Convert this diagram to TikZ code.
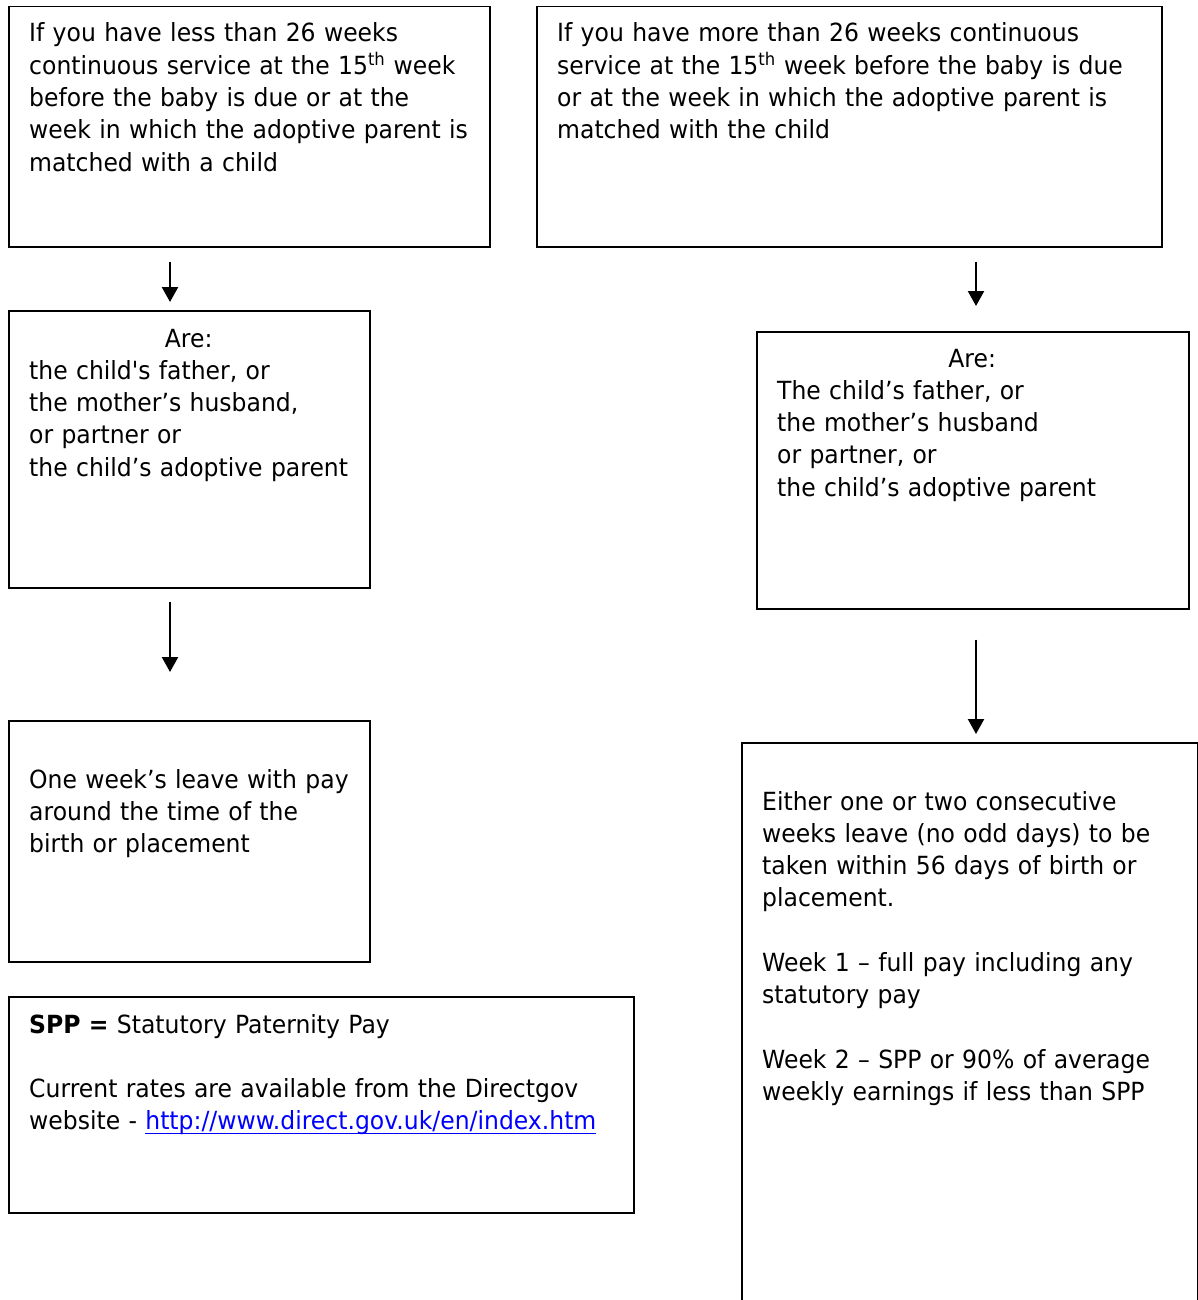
\documentclass[tikz,border=0pt]{standalone}
\usepackage{fontspec}
\setmainfont[Ligatures=TeXOff, FakeStretch=0.94]{DejaVu Sans}
\usetikzlibrary{arrows.meta}
\newcommand{\linktext}[1]{\setbox0\hbox{#1}\rlap{\rule[-4.5pt]{\wd0}{1.5pt}}\box0}
\definecolor{linkblue}{RGB}{0,0,255}
\begin{document}
\begin{tikzpicture}[x=1pt,y=-1pt,
  box/.style={draw=black, line width=1.5pt, inner sep=0pt, anchor=north west},
  txt/.style={inner sep=0pt, anchor=base west, align=left, text width=700pt,
    font=\fontsize{25pt}{32.3pt}\selectfont},
  arr/.style={line width=2.3pt, -{Triangle[width=16pt,length=15pt]}}]
\useasboundingbox (0,0) rectangle (1198,1300);
\clip (0,0) rectangle (1198,1300);

% boxes
\node[box, minimum width=481pt, minimum height=240pt] (A) at (8,6) {};
\node[box, minimum width=625pt, minimum height=240pt] (B) at (536,6) {};
\node[box, minimum width=361pt, minimum height=277pt] (C) at (8,310) {};
\node[box, minimum width=432pt, minimum height=277pt] (D) at (756,331) {};
\node[box, minimum width=361pt, minimum height=241pt] (E) at (8,720) {};
\node[box, minimum width=456pt, minimum height=620pt] (F) at (741,742) {};
\node[box, minimum width=625pt, minimum height=216pt] (G) at (8,996) {};

% texts
\node[txt] (tA) at (29,42) {If you have less than 26 weeks\\
continuous service at the 15\textsuperscript{th} week\\
before the baby is due or at the\\
week in which the adoptive parent is\\
matched with a child};

\node[txt] (tB) at (557,42) {If you have more than 26 weeks continuous\\
service at the 15\textsuperscript{th} week before the baby is due\\
or at the week in which the adoptive parent is\\
matched with the child};

\node[txt] (tC) at (29,347) {\makebox[319pt]{Are:}\\
the child\symbol{39}s father, or\\
the mother’s husband,\\
or partner or\\
the child’s adoptive parent};

\node[txt] (tD) at (777,367) {\makebox[390pt]{Are:}\\
The child’s father, or\\
the mother’s husband\\
or partner, or\\
the child’s adoptive parent};

\node[txt] (tE) at (29,788) {One week’s leave with pay\\
around the time of the\\
birth or placement};

\node[txt] (tF) at (762,810) {Either one or two consecutive\\
weeks leave (no odd days) to be\\
taken within 56 days of birth or\\
placement.\\[32.3pt]
Week 1 – full pay including any\\
statutory pay\\[32.3pt]
Week 2 – SPP or 90\% of average\\
weekly earnings if less than SPP};

\node[txt] (tG) at (29,1033) {\textbf{SPP =} Statutory Paternity Pay\\[32.3pt]
Current rates are available from the Directgov\\
website - \textcolor{linkblue}{\linktext{http://www.direct.gov.uk/en/index.htm}}};

% arrows
\coordinate (xl) at (170,0);
\coordinate (xr) at (976,0);
\draw[arr, shorten <=14pt, shorten >=8pt] (A.south -| xl) -- (C.north -| xl);
\draw[arr, shorten <=14pt, shorten >=25pt] (B.south -| xr) -- (D.north -| xr);
\draw[arr, shorten <=13pt, shorten >=48pt] (C.south -| xl) -- (E.north -| xl);
\draw[arr, shorten <=30pt, shorten >=8pt] (D.south -| xr) -- (F.north -| xr);
\end{tikzpicture}
\end{document}
